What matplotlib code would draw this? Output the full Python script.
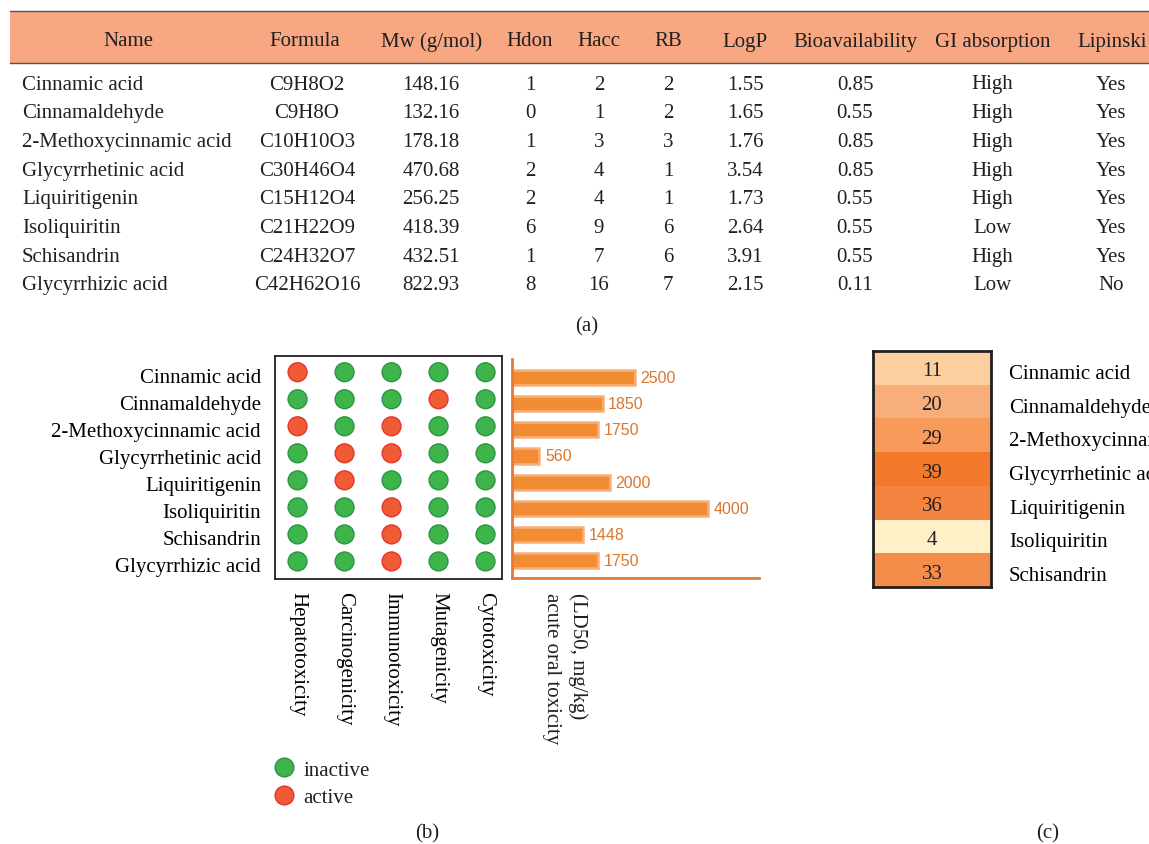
import numpy as np
import matplotlib.pyplot as plt
from matplotlib.colors import LinearSegmentedColormap, Normalize
from matplotlib.lines import Line2D
from matplotlib.transforms import ScaledTranslation

plt.rcParams['font.family'] = ['Liberation Serif', 'DejaVu Serif']
plt.rcParams['text.color'] = '#231F20'

# ---- data ----
compounds = ['Cinnamic acid', 'Cinnamaldehyde', '2-Methoxycinnamic acid',
             'Glycyrrhetinic acid', 'Liquiritigenin', 'Isoliquiritin',
             'Schisandrin', 'Glycyrrhizic acid']
formulas = ['C9H8O2', 'C9H8O', 'C10H10O3', 'C30H46O4', 'C15H12O4',
            'C21H22O9', 'C24H32O7', 'C42H62O16']
mw = ['148.16', '132.16', '178.18', '470.68', '256.25', '418.39', '432.51', '822.93']
hdon = [1, 0, 1, 2, 2, 6, 1, 8]
hacc = [2, 1, 3, 4, 4, 9, 7, 16]
rb = [2, 2, 3, 1, 1, 6, 6, 7]
logp = ['1.55', '1.65', '1.76', '3.54', '1.73', '2.64', '3.91', '2.15']
bioavail = ['0.85', '0.55', '0.85', '0.85', '0.55', '0.55', '0.55', '0.11']
gi_abs = ['High', 'High', 'High', 'High', 'High', 'Low', 'High', 'Low']
lipinski = ['Yes', 'Yes', 'Yes', 'Yes', 'Yes', 'Yes', 'Yes', 'No']
headers = ['Name', 'Formula', 'Mw (g/mol)', 'Hdon', 'Hacc', 'RB', 'LogP',
           'Bioavailability', 'GI absorption', 'Lipinski']

tox_endpoints = ['Hepatotoxicity', 'Carcinogenicity', 'Immunotoxicity',
                 'Mutagenicity', 'Cytotoxicity']
# 1 = active, 0 = inactive
tox_active = np.array([
    [1, 0, 0, 0, 0],
    [0, 0, 0, 1, 0],
    [1, 0, 1, 0, 0],
    [0, 1, 1, 0, 0],
    [0, 1, 0, 0, 0],
    [0, 0, 1, 0, 0],
    [0, 0, 1, 0, 0],
    [0, 0, 1, 0, 0],
])
ld50 = [2500, 1850, 1750, 560, 2000, 4000, 1448, 1750]

heat_compounds = compounds[:7]
heat_values = [11, 20, 29, 39, 36, 4, 33]

W, H = 1149, 845
fig = plt.figure(figsize=(W / 100, H / 100), dpi=100)


def px_axes(x0, y0, x1, y1):
    return fig.add_axes([x0 / W, 1 - y1 / H, (x1 - x0) / W, (y1 - y0) / H])


def down(px):
    return ScaledTranslation(0, -px / 100, fig.dpi_scale_trans)


def nudge_down(labels, px):
    # serif labels sit a little lower than the tick centre
    for lbl in labels:
        lbl.set_transform(lbl.get_transform() + down(px))


FS = 15
GREEN, GREEN_EDGE = '#3DB54A', '#2E9444'
RED, RED_EDGE = '#EE5B35', '#E8332A'
ORANGE = '#E2793A'

# ---- (a) property table ----
ax = px_axes(0, 0, W, H)
ax.set_xlim(0, W)
ax.set_ylim(H, 0)
ax.axis('off')
ax.fill_between([10, W], 12, 64, color='#F7A883', lw=0)
ax.plot([10, W], [12, 12], color='#555555', lw=1)
ax.plot([10, W], [64, 64], color='#555555', lw=1)

head_x = [128, 305, 432, 530, 599, 668, 745, 855, 993, 1112]
col_x = [22, 307, 431, 530, 599, 668, 745, 855, 992, 1111]
for hx, h in zip(head_x, headers):
    ax.text(hx, 42, h, ha='center', va='center', fontsize=FS)

columns = [compounds, formulas, mw, hdon, hacc, rb, logp, bioavail, gi_abs, lipinski]
for i in range(len(compounds)):
    y = 85 + i * 28.7
    for j, col in enumerate(columns):
        ax.text(col_x[j], y, str(col[i]), ha='left' if j == 0 else 'center',
                va='center', fontsize=FS)

ax.text(587, 327, '(a)', ha='center', va='center', fontsize=FS)
ax.text(427, 834, '(b)', ha='center', va='center', fontsize=FS)
ax.text(1048, 834, '(c)', ha='center', va='center', fontsize=FS)

# LD50 axis caption (two rotated lines)
ax.text(578, 593, '(LD50, mg/kg)', rotation=-90, ha='center', va='top', fontsize=FS)
ax.text(551, 593, 'acute oral toxicity', rotation=-90, ha='center', va='top', fontsize=FS)

# ---- (b) toxicity dot matrix ----
axd = px_axes(275, 357, 502, 580)
rows, cols = np.indices(tox_active.shape)
colors = np.where(tox_active.ravel() == 1, RED, GREEN)
edges = np.where(tox_active.ravel() == 1, RED_EDGE, GREEN_EDGE)
axd.scatter(cols.ravel(), rows.ravel(), s=185, c=colors, edgecolors=edges, linewidths=1)
axd.set_xlim(-0.48, 4.35)
axd.set_ylim(7.65, -0.6)
axd.set_yticks(range(len(compounds)))
axd.set_yticklabels(compounds, fontsize=FS)
axd.set_xticks(range(len(tox_endpoints)))
axd.set_xticklabels(tox_endpoints, rotation=-90, ha='center', va='top', fontsize=FS)
axd.tick_params(length=0, pad=10)
axd.tick_params(axis='x', pad=9)
nudge_down(axd.get_yticklabels(), 3)
for s in axd.spines.values():
    s.set_linewidth(1.3)
    s.set_color('#231F20')

handles = [Line2D([], [], marker='o', ls='', markersize=13.5, mfc=GREEN, mec=GREEN_EDGE),
           Line2D([], [], marker='o', ls='', markersize=13.5, mfc=RED, mec=RED_EDGE)]
fig.legend(handles, ['inactive', 'active'], loc='upper left',
           bbox_to_anchor=(274 / W, 1 - 761 / H), frameon=False, fontsize=FS,
           handlelength=1, handletextpad=0.4, labelspacing=0.4, borderpad=0,
           borderaxespad=0)

# ---- (b) LD50 bars ----
axb = px_axes(512, 360, 759, 579)
bars = axb.barh(range(len(ld50)), ld50, height=0.58, color='#F28C32',
                edgecolor='#F6B07A', linewidth=1.8)
axb.bar_label(bars, padding=4, color='#D9762E', fontsize=11.5,
              family=['Liberation Sans', 'DejaVu Sans'])
axb.set_xlim(0, 5040)
axb.set_ylim(7.66, -0.7)
axb.set_xticks([])
axb.set_yticks([])
axb.spines[['top', 'right']].set_visible(False)
for side in ['left', 'bottom']:
    axb.spines[side].set_color(ORANGE)
    axb.spines[side].set_linewidth(2)

# ---- (c) heat strip ----
cmap = LinearSegmentedColormap.from_list(
    'peach', [(0, '#FFF0C8'), (0.2, '#FDCFA0'), (0.457, '#F9AF7B'),
              (0.714, '#F79A5A'), (0.914, '#F58540'), (1, '#F37A2A')])
axh = px_axes(873, 352, 991, 588)
vals = np.array(heat_values).reshape(-1, 1)
axh.imshow(vals, cmap=cmap, norm=Normalize(min(heat_values), max(heat_values)),
           aspect='auto')
for i, v in enumerate(heat_values):
    axh.text(0, i, str(v), ha='center', va='center', fontsize=FS,
             transform=axh.transData + down(3))
axh.set_xticks([])
axh.yaxis.tick_right()
axh.set_yticks(range(len(heat_compounds)))
axh.set_yticklabels(heat_compounds, fontsize=FS)
axh.tick_params(length=0, pad=13)
nudge_down(axh.get_yticklabels(), 3)
for s in axh.spines.values():
    s.set_linewidth(2)
    s.set_color('#231F20')

fig.savefig('out.png', dpi=100)
